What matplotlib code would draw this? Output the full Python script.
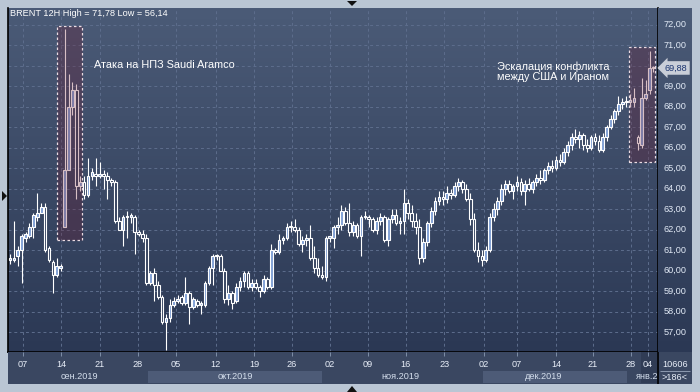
import numpy as np
import matplotlib
matplotlib.use('Agg')
import matplotlib.pyplot as plt
from matplotlib.patches import Rectangle, Polygon
from matplotlib.colors import LinearSegmentedColormap

# BRENT 12H candles
opens = [60.5, 60.5, 60.7, 61.0, 61.6, 61.7, 62.1, 62.6, 62.8, 63.1, 61.1, 60.4, 59.8, 60.1,
         62.1, 64.9, 68.0, 68.8, 64.1, 64.3, 63.7, 64.6, 64.7, 64.6, 64.7, 64.6, 64.4, 64.3,
         62.4, 62.0, 62.6, 62.6, 62.6, 61.9, 61.8, 61.6, 59.4, 59.9, 59.3, 58.7, 57.5, 57.7,
         58.3, 58.5, 58.7, 58.4, 58.9, 58.2, 58.5, 58.3, 58.3, 59.4, 60.1, 60.7, 60.7, 60.0,
         58.6, 58.9, 58.5, 59.2, 59.5, 59.9, 59.2, 59.4, 59.2, 59.0, 59.6, 59.2, 61.0, 60.9,
         61.5, 61.6, 62.1, 62.1, 62.0, 61.3, 61.5, 61.6, 60.6, 60.1, 59.8, 59.7, 61.6, 61.6,
         62.1, 62.2, 62.9, 62.3, 61.9, 62.2, 61.7, 62.6, 62.6, 62.5, 62.0, 62.4, 62.6, 61.5,
         62.5, 62.7, 62.3, 62.4, 63.3, 62.8, 62.4, 62.1, 60.6, 61.4, 62.3, 62.9, 63.4, 63.6,
         63.5, 63.8, 63.7, 64.1, 64.3, 64.0, 63.5, 62.5, 61.0, 60.7, 60.5, 61.0, 62.6, 63.0,
         63.4, 64.0, 64.2, 63.9, 64.1, 64.3, 63.9, 64.2, 64.0, 64.3, 64.5, 64.4, 64.9, 65.1,
         65.0, 65.4, 65.3, 65.8, 66.1, 66.5, 66.4, 66.6, 66.1, 66.0, 66.5, 66.3, 65.9, 66.5,
         67.0, 67.4, 67.8, 68.1, 68.2, 68.2, 68.2, 66.5, 66.1, 68.4, 68.8, 69.9]
highs = [60.8, 62.4, 61.2, 61.8, 61.9, 62.3, 62.8, 63.8, 63.3, 63.3, 61.2, 60.5, 60.6, 60.3,
         71.78, 69.6, 69.2, 69.1, 64.6, 64.6, 65.5, 65.0, 65.5, 65.3, 64.9, 64.8, 64.5, 64.4,
         62.6, 62.7, 62.9, 62.8, 62.7, 62.0, 62.0, 61.8, 60.0, 60.1, 59.5, 58.8, 57.9, 58.6,
         58.7, 58.8, 58.8, 59.7, 59.0, 58.7, 58.6, 58.5, 59.5, 60.2, 60.8, 60.8, 60.8, 60.1,
         59.3, 59.0, 59.4, 59.7, 60.0, 60.0, 59.6, 59.6, 59.3, 59.8, 59.7, 61.3, 61.1, 61.8,
         61.7, 62.3, 62.4, 62.5, 62.1, 61.7, 61.8, 62.2, 61.2, 60.6, 60.2, 61.7, 61.7, 62.2,
         62.6, 63.2, 63.1, 63.3, 62.4, 62.3, 62.7, 62.9, 62.7, 62.6, 62.6, 62.8, 62.7, 62.6,
         63.0, 63.0, 62.6, 64.0, 63.5, 63.2, 62.8, 62.5, 61.6, 62.4, 63.1, 63.6, 63.9, 63.9,
         64.1, 64.0, 64.3, 64.5, 64.4, 64.2, 63.8, 62.8, 61.4, 61.0, 61.2, 62.8, 63.3, 63.6,
         64.2, 64.4, 64.4, 64.2, 64.6, 64.5, 64.4, 64.5, 64.4, 64.7, 64.9, 65.0, 65.3, 65.4,
         65.6, 65.7, 66.0, 66.3, 66.7, 66.9, 66.8, 66.7, 66.4, 66.6, 66.7, 66.6, 66.7, 67.1,
         67.6, 67.9, 68.5, 68.4, 68.5, 68.6, 68.9, 66.6, 69.4, 69.3, 70.7, 70.0]
lows = [60.3, 60.4, 60.2, 59.4, 61.4, 61.6, 61.6, 62.4, 62.8, 60.9, 60.4, 58.9, 59.7, 60.0,
        62.1, 64.9, 67.6, 63.5, 63.9, 63.5, 63.6, 64.4, 64.1, 64.5, 64.0, 63.5, 64.1, 62.3,
        62.0, 61.2, 61.6, 62.3, 60.8, 61.7, 61.4, 59.3, 59.3, 58.5, 58.6, 57.4, 56.14, 57.5,
        58.2, 58.4, 58.3, 58.3, 57.4, 58.1, 58.2, 57.9, 58.2, 59.3, 59.3, 60.5, 60.0, 58.4,
        58.3, 58.1, 58.4, 59.0, 59.2, 59.1, 59.0, 59.1, 58.7, 58.9, 59.1, 59.1, 60.8, 60.8,
        61.3, 61.5, 61.9, 61.9, 61.2, 60.9, 61.2, 60.5, 59.9, 59.7, 59.6, 59.5, 61.4, 61.1,
        61.8, 62.0, 62.2, 61.7, 61.7, 61.6, 60.7, 62.5, 62.1, 61.9, 61.8, 62.2, 61.4, 61.2,
        62.3, 62.2, 61.8, 61.8, 62.5, 62.1, 61.8, 60.3, 60.4, 61.2, 62.1, 62.7, 63.2, 63.2,
        63.3, 63.5, 63.6, 63.9, 63.8, 63.4, 62.2, 60.9, 60.4, 60.2, 60.4, 60.9, 62.4, 62.7,
        63.2, 63.7, 63.8, 63.5, 63.9, 63.7, 63.2, 63.9, 63.8, 64.1, 64.2, 64.3, 64.7, 64.8,
        64.9, 65.1, 65.2, 65.6, 65.9, 66.2, 66.0, 65.9, 65.8, 65.9, 66.1, 65.8, 65.8, 66.3,
        66.9, 67.2, 67.6, 67.9, 68.0, 68.0, 68.0, 65.9, 66.0, 68.3, 68.6, 69.7]
closes = [60.6, 60.6, 61.0, 61.7, 61.8, 62.1, 62.7, 62.8, 63.1, 61.0, 60.5, 59.8, 60.2, 60.2,
          64.9, 68.0, 68.8, 64.1, 64.3, 63.7, 64.6, 64.8, 64.6, 64.7, 64.6, 64.4, 64.3, 62.4,
          62.0, 62.6, 62.6, 62.7, 61.9, 61.8, 61.6, 59.4, 59.9, 59.3, 58.7, 57.5, 57.7, 58.3,
          58.5, 58.6, 58.4, 58.9, 58.2, 58.6, 58.3, 58.4, 59.4, 60.1, 60.7, 60.7, 60.0, 58.6,
          58.9, 58.4, 59.2, 59.5, 59.9, 59.2, 59.4, 59.2, 59.0, 59.6, 59.2, 61.0, 60.9, 61.5,
          61.6, 62.1, 62.1, 62.0, 61.3, 61.5, 61.6, 60.6, 60.1, 59.8, 59.7, 61.6, 61.6, 62.1,
          62.2, 62.9, 62.3, 61.9, 62.2, 61.7, 62.6, 62.6, 62.5, 62.0, 62.4, 62.6, 61.5, 62.5,
          62.7, 62.3, 62.4, 63.3, 62.8, 62.4, 62.1, 60.6, 61.4, 62.3, 62.9, 63.4, 63.6, 63.5,
          63.8, 63.7, 64.1, 64.3, 64.0, 63.5, 62.5, 61.0, 60.7, 60.5, 61.0, 62.6, 63.0, 63.4,
          64.0, 64.2, 63.9, 64.1, 64.3, 63.9, 64.2, 64.0, 64.3, 64.5, 64.4, 64.9, 65.1, 65.0,
          65.4, 65.3, 65.8, 66.1, 66.5, 66.4, 66.6, 66.1, 66.0, 66.5, 66.3, 65.9, 66.5, 67.0,
          67.4, 67.8, 68.1, 68.2, 68.2, 68.3, 68.4, 66.2, 68.4, 68.6, 69.9, 69.88]

day_labels = ['07', '14', '21', '28', '05', '12', '19', '26', '02', '09', '16', '23',
              '02', '07', '14', '21', '28', '04']
day_pos = [3.3, 13.1, 23.1, 32.8, 42.6, 52.8, 62.6, 72.3, 82.1, 91.8, 101.5, 111.3,
           121.5, 130.0, 140.0, 149.5, 159.2, 163.6]
month_labels = ['сен.2019', 'окт.2019', 'ноя.2019', 'дек.2019', 'янв.20']
month_pos = [17.9, 57.7, 100.0, 136.7, 164.1]
price_ticks = list(range(57, 73))
last_price = 69.88

W, H = 700, 392
FONT = 'Liberation Sans'

# pixel -> bar index / price mapping of the terminal screenshot
def px2bar(px):
    return (px - 10) / 3.9

def py2price(py):
    return 65 - (py - 168) / 20.5

fig = plt.figure(figsize=(W / 100, H / 100), dpi=100, facecolor='#bac6d4')
bg = LinearSegmentedColormap.from_list('bg', ['#4b5b77', '#2b3854'])
grad = np.linspace(0, 1, 256).reshape(-1, 1)

xmin, xmax = px2bar(8), px2bar(658)
ymin, ymax = py2price(352), py2price(8)

ax = fig.add_axes([8 / W, 1 - 352 / H, 650 / W, 344 / H])
ax.imshow(grad, cmap=bg, extent=[xmin, xmax, ymin, ymax], aspect='auto', zorder=0)
ax.set_xlim(xmin, xmax)
ax.set_ylim(ymin, ymax)
ax.set_xticks([])
ax.set_yticks([])
for s in ['left', 'right', 'bottom']:
    ax.spines[s].set_color('black')
    ax.spines[s].set_linewidth(1.2)
ax.spines['top'].set_visible(False)

ax.hlines(price_ticks, xmin, xmax, colors='#5d6d8c', linestyles=(0, (3, 3)), lw=0.7, zorder=1)
ax.vlines(day_pos, ymin, ymax, colors='#5d6d8c', linestyles=(0, (3, 3)), lw=0.7, zorder=1)

o = np.array(opens)
h = np.array(highs)
l = np.array(lows)
c = np.array(closes)
x = np.arange(len(c))
up = c >= o
ax.vlines(x, l, h, color='white', lw=0.8, zorder=3)
body_h = np.maximum(np.abs(c - o), 0.06)
ax.bar(x, body_h, bottom=np.minimum(o, c), width=0.7,
       color=np.where(up, '#7f9fd4', '#33415e'), edgecolor='white', linewidth=0.8, zorder=4)

# highlighted events
for bx0, bx1, p0, p1 in [(px2bar(57), px2bar(82), py2price(240), py2price(26)),
                         (px2bar(629), px2bar(655), py2price(162), py2price(47))]:
    ax.add_patch(Rectangle((bx0, p0), bx1 - bx0, p1 - p0, fc=(0.43, 0.08, 0.16, 0.27),
                           ec='#eadbe2', ls=(0, (2, 2)), lw=0.9, zorder=5))

ax.text(px2bar(94), py2price(65), 'Атака на НПЗ Saudi Aramco', color='white',
        fontsize=7.8, family=FONT, va='center', ha='left', zorder=6)
ax.text(px2bar(497), py2price(72), 'Эскалация конфликта\nмежду США и Ираном', color='white',
        fontsize=7.8, family=FONT, va='center', ha='left', linespacing=1.05, zorder=6)

fig.text(10 / W, 1 - 14 / H, 'BRENT 12H High = 71,78 Low = 56,14', color='white',
         fontsize=6.6, family=FONT, va='center', ha='left')

# price scale (the 70,00 label sits under the last-price marker)
ax2 = fig.add_axes([658 / W, 1 - 352 / H, 34 / W, 344 / H])
ax2.imshow(grad, cmap=bg, extent=[0, 1, ymin, ymax], aspect='auto', zorder=0)
ax2.set_xlim(0, 1)
ax2.set_ylim(ymin, ymax)
ax2.axis('off')
for p in price_ticks:
    if abs(p - last_price) < 0.5:
        continue
    ax2.text(0.17, p, f'{p},00', color='#e2eaf6', fontsize=6.6, family=FONT,
             va='center', ha='left')
ax2.text(0.2, last_price, f'{last_price:.2f}'.replace('.', ','), color='#1c3570',
         fontsize=6.6, family=FONT, va='center', ha='left', zorder=5,
         bbox=dict(boxstyle='larrow,pad=0.25', fc='#c9ced8', ec='none'))

# time scale
ax3 = fig.add_axes([8 / W, 1 - 384 / H, 684 / W, 32 / H])
ax3.set_facecolor('#3a4761')
ax3.set_xlim(xmin, px2bar(692))
ax3.set_ylim(0, 1)
ax3.set_xticks([])
ax3.set_yticks([])
for s in ax3.spines.values():
    s.set_visible(False)
for b0, b1 in [(px2bar(148), px2bar(322)), (px2bar(483), px2bar(627))]:
    ax3.add_patch(Rectangle((b0, 0.03), b1 - b0, 0.37, fc='#4d5b77', ec='none', zorder=1))
ax3.add_patch(Rectangle((px2bar(641), 0.03), px2bar(657) - px2bar(641), 0.97,
                        fc='#2c3850', alpha=0.7, ec='none', zorder=1))
ax3.vlines(day_pos, 0.88, 1.0, colors='#7f8fa8', lw=0.7)
for lab, pos in zip(day_labels, day_pos):
    ax3.text(pos, 0.6, lab, color='#e8eef8', fontsize=6.6, family=FONT,
             ha='center', va='center', zorder=2)
for lab, pos in zip(month_labels, month_pos):
    ax3.text(pos, 0.22, lab, color='#d4deec', fontsize=6.6, family=FONT,
             ha='center', va='center', zorder=2)
ax3.axvline(xmax, color='black', lw=1.2, zorder=3)
ax3.add_patch(Rectangle((xmax, 0), px2bar(692) - xmax, 1, fc='#3a4761', ec='none', zorder=2))
ax3.hlines(0.4, px2bar(660), px2bar(690), colors='#8d9ab0', lw=0.7, zorder=3)
ax3.text(px2bar(675), 0.62, '10606', color='#e8eef8', fontsize=6.6, family=FONT,
         ha='center', va='center', zorder=3)
ax3.text(px2bar(675), 0.2, '>186<', color='#e8eef8', fontsize=6.6, family=FONT,
         ha='center', va='center', zorder=3)

# small arrows on the frame
for pts in [[(2, 191), (7, 196), (2, 201)],
            [(347, 1), (357, 1), (352, 6)],
            [(347, 392), (357, 392), (352, 386)]]:
    fig.patches.append(Polygon([(px / W, 1 - py / H) for px, py in pts], closed=True,
                               fc='#111111', ec='none', transform=fig.transFigure, figure=fig))

fig.savefig('out.png', dpi=100, facecolor=fig.get_facecolor())
